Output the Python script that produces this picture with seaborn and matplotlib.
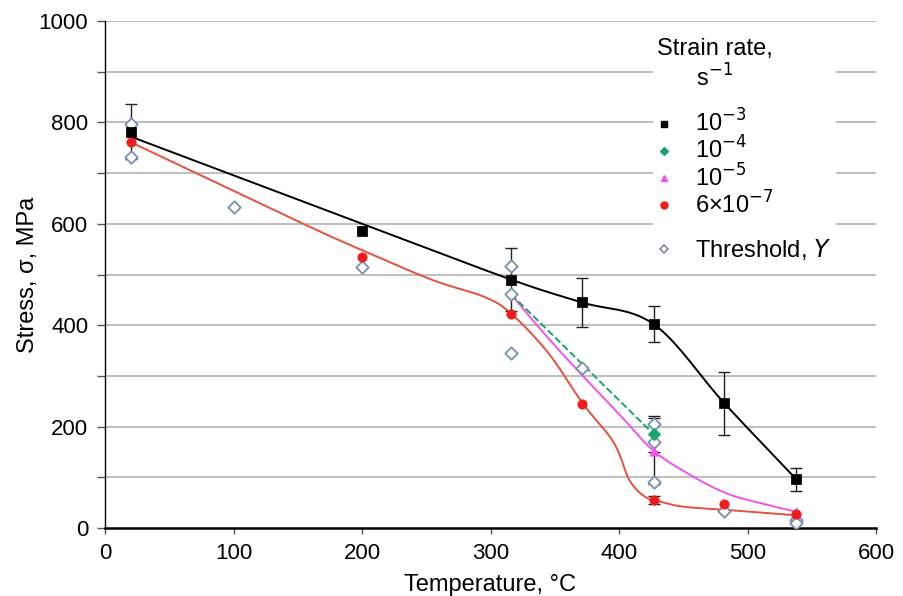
import numpy as np
import pandas as pd
import matplotlib
matplotlib.use("Agg")
import matplotlib.pyplot as plt
import seaborn as sns
from matplotlib.lines import Line2D
from matplotlib.ticker import MultipleLocator

# measured points, strain rate 1e-3 (black squares) with error bars
temp_1e3 = [20, 200, 316, 371, 427, 482, 538]
stress_1e3 = [782, 586, 490, 445, 402, 246, 96]
err_1e3 = [55, 0, 62, 49, 35, 62, 23]

# strain rate 1e-4 (green)
temp_1e4 = [427]
stress_1e4 = [185]
err_1e4 = [35]

# strain rate 1e-5 (magenta)
temp_1e5 = [427, 538]
stress_1e5 = [152, 32]
err_1e5 = [65, 0]

# strain rate 6e-7 (red)
temp_6e7 = [20, 200, 316, 371, 427, 482, 538]
stress_6e7 = [761, 534, 423, 245, 55, 47, 28]
err_6e7 = [0, 0, 0, 0, 8, 0, 0]

# threshold stress Y (open diamonds)
temp_thr = [20, 20, 100, 200, 316, 316, 316, 371, 427, 427, 427, 482, 538, 538]
stress_thr = [796, 732, 634, 515, 517, 461, 345, 316, 206, 170, 91, 34, 16, 9]

# fitted curves (knots)
fit_1e3_t = [20, 200, 316, 371, 427, 482, 538]
fit_1e3_s = [772, 600, 490, 445, 402, 246, 96]
fit_1e4_t = [316, 427]
fit_1e4_s = [461, 185]
fit_1e5_t = [316, 343, 370, 400, 427, 458, 484, 510, 538]
fit_1e5_s = [461, 380, 305, 225, 152, 101, 68, 49, 32]
fit_6e7_t = [20, 150, 200, 255, 295, 316, 345, 372, 396, 408, 420, 432, 450, 482, 538]
fit_6e7_s = [761, 605, 548, 489, 456, 423, 345, 245, 168, 95, 62, 52, 42, 36, 25]

C_BLACK = "#000000"
C_GREEN = "#1aa56e"
C_MAG = "#ee55ee"
C_RED = "#ee1c1c"
C_REDLINE = "#e8503e"
C_THR = "#7890b0"


def smooth(xs, ys, n=40):
    # catmull-rom curve through the knots, like a smoothed excel line
    p = np.column_stack([xs, ys]).astype(float)
    if len(p) < 3:
        return p[:, 0], p[:, 1]
    p = np.vstack([2 * p[0] - p[1], p, 2 * p[-1] - p[-2]])
    out = []
    t = np.linspace(0, 1, n, endpoint=False)[:, None]
    for i in range(1, len(p) - 2):
        p0, p1, p2, p3 = p[i - 1], p[i], p[i + 1], p[i + 2]
        out.append(0.5 * (2 * p1 + (-p0 + p2) * t + (2 * p0 - 5 * p1 + 4 * p2 - p3) * t ** 2
                          + (-p0 + 3 * p1 - 3 * p2 + p3) * t ** 3))
    out.append(p[-2][None, :])
    out = np.vstack(out)
    return out[:, 0], out[:, 1]


sns.set_style("white")
plt.rcParams["font.family"] = ["Liberation Sans", "DejaVu Sans"]
plt.rcParams["text.color"] = "black"
plt.rcParams["axes.labelcolor"] = "black"

fig = plt.figure(figsize=(9.04, 5.96), dpi=100)
ax = fig.add_axes([105 / 904, 68 / 596, 771 / 904, 507 / 596])

# curves
for tt, ss, col, ls in [(fit_1e3_t, fit_1e3_s, C_BLACK, "-"),
                        (fit_6e7_t, fit_6e7_s, C_REDLINE, "-"),
                        (fit_1e5_t, fit_1e5_s, C_MAG, "-"),
                        (fit_1e4_t, fit_1e4_s, C_GREEN, "--")]:
    sx, sy = smooth(tt, ss)
    sns.lineplot(x=sx, y=sy, sort=False, estimator=None, color=col, lw=1.4,
                 linestyle=ls, ax=ax, zorder=3)

# error bars
for tt, ss, ee in [(temp_1e3, stress_1e3, err_1e3), (temp_1e4, stress_1e4, err_1e4),
                   (temp_1e5, stress_1e5, err_1e5), (temp_6e7, stress_6e7, err_6e7)]:
    tt = np.array(tt); ss = np.array(ss); ee = np.array(ee)
    m = ee > 0
    ax.errorbar(tt[m], ss[m], yerr=ee[m], fmt="none", ecolor="#222222",
                elinewidth=1, capsize=4, capthick=1, zorder=4)

# markers
sns.scatterplot(x=temp_thr, y=stress_thr, marker="D", s=40, facecolor="white",
                edgecolor=C_THR, linewidth=1.3, ax=ax, zorder=5)
sns.scatterplot(x=temp_1e3, y=stress_1e3, marker="s", s=45, color=C_BLACK,
                edgecolor=C_BLACK, ax=ax, zorder=6)
sns.scatterplot(x=temp_1e4, y=stress_1e4, marker="D", s=40, color=C_GREEN,
                edgecolor=C_GREEN, ax=ax, zorder=6)
sns.scatterplot(x=temp_1e5, y=stress_1e5, marker="^", s=45, color=C_MAG,
                edgecolor=C_MAG, ax=ax, zorder=6)
sns.scatterplot(x=temp_6e7, y=stress_6e7, marker="o", s=45, color=C_RED,
                edgecolor=C_RED, ax=ax, zorder=6)

ax.set_xlim(0, 600)
ax.set_ylim(0, 1000)
ax.xaxis.set_major_locator(MultipleLocator(100))
ax.yaxis.set_major_locator(MultipleLocator(200))
ax.yaxis.set_minor_locator(MultipleLocator(100))
ax.grid(False)
for yv in range(100, 1001, 100):
    ax.axhline(yv, color="#b4b4b4", lw=1.2, zorder=1)

for side in ["top", "right"]:
    ax.spines[side].set_visible(False)
for side in ["left", "bottom"]:
    ax.spines[side].set_color("black")
ax.spines["left"].set_linewidth(1.0)
ax.spines["bottom"].set_linewidth(1.8)

ax.tick_params(axis="both", which="both", direction="out", color="#555555",
               labelcolor="black", width=1, labelsize=16, bottom=True, left=True)
ax.tick_params(axis="y", which="both", length=6, pad=6)
ax.tick_params(axis="x", which="both", length=4, pad=7)
ax.set_xlabel("Temperature, °C", fontsize=17, labelpad=7)
ax.set_ylabel("Stress, σ, MPa", fontsize=17, va="center")
ax.yaxis.set_label_coords(-0.1, 0.5)

blank = Line2D([], [], linestyle="none")
handles = [blank,
           Line2D([], [], linestyle="none", marker="s", ms=5, color=C_BLACK),
           Line2D([], [], linestyle="none", marker="D", ms=4.5, color=C_GREEN),
           Line2D([], [], linestyle="none", marker="^", ms=5, color=C_MAG),
           Line2D([], [], linestyle="none", marker="o", ms=5, color=C_RED),
           blank,
           Line2D([], [], linestyle="none", marker="D", ms=4.5, mfc="white",
                  mec=C_THR, mew=1.2)]
labels = [" ", "10$^{-3}$", "10$^{-4}$", "10$^{-5}$", "6\u00d710$^{-7}$", " ",
          "Threshold, $\\mathit{Y}$"]
leg = ax.legend(handles, labels, loc="upper left", bbox_to_anchor=(0.695, 1.0),
                title="Strain rate,\n      s$^{-1}$", alignment="left",
                fontsize=17, title_fontsize=17, frameon=True, facecolor="white",
                edgecolor="none", fancybox=False, framealpha=1, borderpad=0.2,
                handlelength=0.6, handletextpad=1.0, labelspacing=0.0)
leg.get_texts()[0].set_fontsize(7)
leg.get_texts()[5].set_fontsize(5)
leg.set_zorder(10)

plt.savefig("out.png", dpi=100)
